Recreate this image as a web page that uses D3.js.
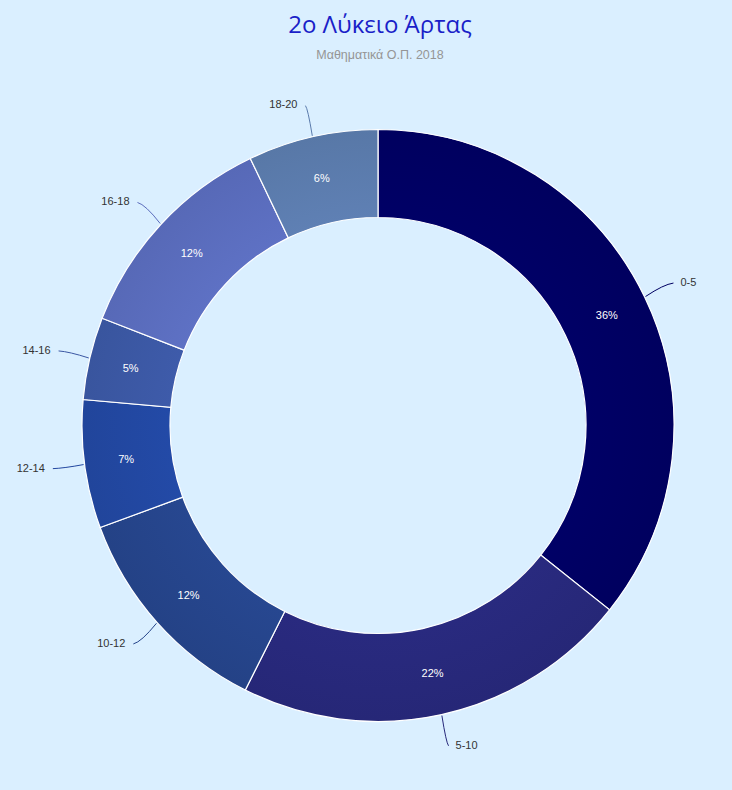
<!DOCTYPE html>
<html>
<head>
<meta charset="utf-8">
<script src="https://cdn.jsdelivr.net/npm/d3@7"></script>
<style>
  html, body { margin: 0; padding: 0; background: #daefff; }
  svg { display: block; }
</style>
</head>
<body>
<div id="chart"></div>
<script>
let categories = ['0-5', '5-10', '10-12', '12-14', '14-16', '16-18', '18-20'],
    shares = [35.7, 21.7, 12.0, 7.0, 4.5, 12.0, 7.1],
    pctLabels = ['36%', '22%', '12%', '7%', '5%', '12%', '6%'],
    colors = ['#000062', '#27287a', '#25448a', '#2247a0', '#3b57a3', '#5a6cbc', '#5b7bac'];

let width = 732,
    height = 790,
    cx = 378,
    cy = 425.5,
    outerR = 296,
    innerR = 208;

let svg = d3.select('#chart').append('svg')
    .attr('width', width)
    .attr('height', height)

svg.append('rect')
    .attr('width', width)
    .attr('height', height)
    .attr('fill', '#daefff')

// titles
svg.append('text')
    .attr('x', 380)
    .attr('y', 33)
    .attr('text-anchor', 'middle')
    .style('font-family', '"Open Sans", "Noto Sans", sans-serif')
    .style('font-size', '24px')
    .style('fill', '#1a1fc8')
    .text('2ο Λύκειο Άρτας')

svg.append('text')
    .attr('x', 380)
    .attr('y', 59)
    .attr('text-anchor', 'middle')
    .style('font-family', '"Liberation Sans", Arial, sans-serif')
    .style('font-size', '12.5px')
    .style('fill', '#959595')
    .text('Μαθηματικά Ο.Π. 2018')

let pie = d3.pie().sort(null).value(d => d)
let arcs = pie(shares)

let arc = d3.arc().innerRadius(innerR).outerRadius(outerR)
let midArc = d3.arc().innerRadius((innerR + outerR) / 2 + 2).outerRadius((innerR + outerR) / 2 + 2)

// subtle radial shading on each slice
let defs = svg.append('defs')
colors.forEach((c, i) => {
    let g = defs.append('radialGradient')
        .attr('id', 'grad' + i)
        .attr('gradientUnits', 'userSpaceOnUse')
        .attr('cx', 0).attr('cy', 0)
        .attr('r', outerR)
    g.append('stop').attr('offset', innerR / outerR).attr('stop-color', d3.color(c).brighter(0.12))
    g.append('stop').attr('offset', 1).attr('stop-color', d3.color(c).darker(0.08))
})

let g = svg.append('g')
    .attr('transform', 'translate(' + cx + ',' + cy + ')')

g.selectAll('path.slice')
    .data(arcs)
    .enter().append('path')
    .attr('class', 'slice')
    .attr('d', arc)
    .attr('fill', (d, i) => 'url(#grad' + i + ')')
    .attr('stroke', '#ffffff')
    .attr('stroke-width', 1.2)

// percent labels inside the ring
g.selectAll('text.pct')
    .data(arcs)
    .enter().append('text')
    .attr('class', 'pct')
    .attr('transform', d => 'translate(' + midArc.centroid(d) + ')')
    .attr('text-anchor', 'middle')
    .attr('dy', '0.35em')
    .style('font-family', '"Liberation Sans", Arial, sans-serif')
    .style('font-size', '11px')
    .style('fill', '#ffffff')
    .text((d, i) => pctLabels[i])

// outer labels with connector lines
function polar(r, a) {
    return [r * Math.sin(a), -r * Math.cos(a)]
}

arcs.forEach((d, i) => {
    let a = (d.startAngle + d.endAngle) / 2
    let right = Math.sin(a) >= 0
    let p0 = polar(outerR + 1, a)
    let p2 = polar(outerR + 32, a)
    let ctrl = [p0[0] + (p2[0] - p0[0]) * 0.65, p0[1] + (p2[1] - p0[1]) * 0.9]

    g.append('path')
        .attr('d', 'M' + p0 + 'Q' + ctrl + ' ' + p2)
        .attr('fill', 'none')
        .attr('stroke', colors[i])
        .attr('stroke-width', 1)

    g.append('text')
        .attr('x', p2[0] + (right ? 7 : -8))
        .attr('y', p2[1] - 1)
        .attr('dy', '0.35em')
        .attr('text-anchor', right ? 'start' : 'end')
        .style('font-family', '"Liberation Sans", Arial, sans-serif')
        .style('font-size', '11px')
        .style('fill', '#333333')
        .text(categories[i])
})
</script>
</body>
</html>
